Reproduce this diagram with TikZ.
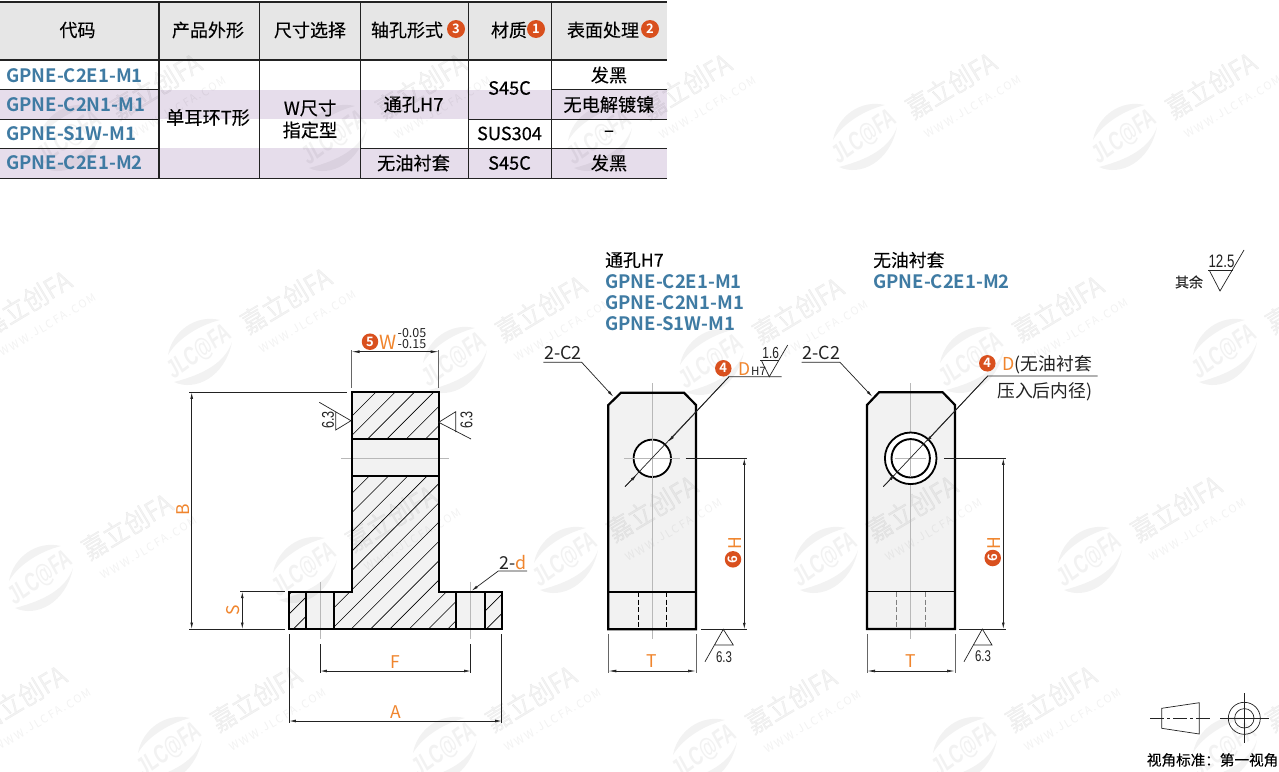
\documentclass[tikz,border=0pt]{standalone}
\usepackage{fontspec}
\usetikzlibrary{arrows.meta}
\setmainfont{Noto Sans CJK SC}
\newfontfamily\medf[FakeBold=0.2]{Noto Sans CJK SC}
\newfontfamily\boldf{Noto Sans CJK SC Bold}
\newfontfamily\wwwf[LetterSpace=16]{Noto Sans CJK SC}
\newfontfamily\wmf[FakeBold=0.7,FakeStretch=0.9]{Noto Sans CJK SC}
\newfontfamily\jlcf[FakeStretch=0.68]{Liberation Sans}
\newfontfamily\cnd[FakeStretch=0.74]{Liberation Sans}
\definecolor{codeblue}{HTML}{3F7BA3}
\definecolor{hdrgray}{HTML}{E6E6E6}
\definecolor{bandpurple}{HTML}{E6DDEB}
\definecolor{partgray}{HTML}{F2F2F2}
\definecolor{dimorange}{HTML}{F0852D}
\definecolor{markred}{HTML}{D9501E}
\definecolor{linedark}{HTML}{222222}
\newcommand{\fs}[1]{\fontsize{#1}{#1}\selectfont}
\tikzset{
 x=1pt,y=-1pt,
 part/.style={line width=2.2pt,draw=black,line join=miter},
 inner/.style={line width=1.8pt,draw=black},
 thinl/.style={line width=.7pt,draw=linedark},
 dimline/.style={line width=.7pt,draw=linedark},
 dimgray/.style={line width=.8pt,draw=gray!80!black},
 arr/.style={dimline,{Latex[length=6.5pt,width=2.8pt]}-{Latex[length=6.5pt,width=2.8pt]}},
 centerl/.style={line width=.5pt,draw=black!28},
 hatchl/.style={line width=.6pt,draw=black},
 rule/.style={line width=.7pt,draw=linedark},
 cell/.style={font=\medf\fs{18.2},text=black,inner sep=0pt},
 hdr/.style={font=\medf\fs{18},text=black,inner sep=0pt},
 codet/.style={font=\boldf\fs{18.5},text=codeblue,anchor=west,inner sep=0pt},
 lab/.style={font=\fs{17.8},text=linedark,inner sep=0pt},
 orangel/.style={font=\fs{17.5},text=dimorange,inner sep=0pt},
 num/.style={circle,fill=markred,text=white,font=\boldf\fs{13},inner sep=0pt,minimum size=16.5pt},
 rough/.style={font=\cnd\fs{15},text=linedark,inner sep=0pt},
}
\newcommand{\wm}[2]{%
 \begin{scope}[shift={(#1,#2)},opacity=.05]
  \fill (20,-32) .. controls (-5,-38) and (-28,-20) .. (-32,3) .. controls (-22,-14) and (0,-27) .. cycle;
  \fill (-26,30) .. controls (-5,40) and (25,25) .. (32,-10) .. controls (25,10) and (5,22) .. cycle;
  \node[rotate=36,font=\jlcf\bfseries\itshape\fs{26}] at (-1,0) {JLC@FA};
  \node[rotate=31,font=\wmf\fs{27}] at (86,-52) {嘉立创FA};
  \node[rotate=31,font=\wwwf\fs{11}] at (108,-30) {WWW.JLCFA.COM};
 \end{scope}}
\begin{document}
\begin{tikzpicture}
\useasboundingbox (0,0) rectangle (1279,771);
\fill[white] (0,0) rectangle (1279,771);
% table fills
\fill[hdrgray] (0,2) rectangle (667,60);
\fill[bandpurple] (0,89.5) rectangle (667,119);
\fill[bandpurple] (0,148) rectangle (667,178);
% part fills
\fill[partgray] (351.7,392.3) rectangle (438.7,591.7);
\fill[partgray] (289.3,591.7) rectangle (501.7,629);
\fill[partgray] (608.3,405) -- (621,392.7) -- (684,392.7) -- (696,405) -- (696,629.3) -- (608.3,629.3) -- cycle;
\fill[partgray] (867,405) -- (879,392.3) -- (942.7,392.3) -- (955,405) -- (955,629) -- (867,629) -- cycle;
% watermarks
\foreach \wx/\wy in {70/138,335/138,600/138,865/137,1125/137,
  -60/355,200/352,455/360,712/362,972/360,1225/352,
  41/578,305/570,566/560,826/560,1090/560,
  -65/750,170/750,445/750,705/752,965/750,1225/750}{\wm{\wx}{\wy}}
% table lines
\draw[line width=1.2pt,draw=linedark] (0,2) -- (667,2);
\draw[line width=1.9pt,draw=linedark] (0,60) -- (667,60);
\draw[line width=1.9pt,draw=linedark] (0,178.5) -- (667,178.5);
\draw[line width=1.4pt,draw=linedark] (159,2) -- (159,178.5);
\foreach \cx in {259,360,468,551}{\draw[rule] (\cx,2) -- (\cx,178.5);}
\draw[rule] (0,89.5) -- (159,89.5);
\draw[rule] (0,119) -- (159,119);
\draw[rule] (0,148) -- (159,148);
\draw[rule] (551,89.5) -- (667,89.5);
\draw[rule] (468,119) -- (667,119);
\draw[rule] (360,148) -- (667,148);
% header
\node[hdr] (h1) at (77.5,30) {代码};
\node[hdr] (h2) at (208,30) {产品外形};
\node[hdr] (h3) at (310,30) {尺寸选择};
\node[hdr] (h4) at (407,30) {轴孔形式};
\node[num,minimum size=18pt] (n3) at (456,29) {3};
\node[hdr] (h5) at (509,30) {材质};
\node[num,minimum size=18pt] (n1) at (536,29) {1};
\node[hdr] (h6) at (603,30) {表面处理};
\node[num,minimum size=18pt] (n2) at (650,29) {2};
% codes
\node[codet] (c1) at (6,75.5) {GPNE-C2E1-M1};
\node[codet] (c2) at (6,104.5) {GPNE-C2N1-M1};
\node[codet] (c3) at (6,133.5) {GPNE-S1W-M1};
\node[codet] (c4) at (6,163) {GPNE-C2E1-M2};
\node[cell] (t1) at (208,117.5) {单耳环T形};
\node[cell] (t2) at (310,108) {W尺寸};
\node[cell] (t3) at (310,130) {指定型};
\node[cell] (t4) at (413.5,104.5) {通孔H7};
\node[cell] (t5) at (413.5,163) {无油衬套};
\node[cell] (t6) at (509.5,88) {S45C};
\node[cell] (t7) at (509.5,133.5) {SUS304};
\node[cell] (t8) at (509.5,163) {S45C};
\node[cell] (t9) at (609,75) {发黑};
\node[cell] (t10) at (609,104.5) {无电解镀镍};
\node[cell] (t11) at (609,133.5) {–};
\node[cell] (t12) at (609,163) {发黑};
% left view: hatching
\begin{scope}
 \clip (351.7,392.3) rectangle (438.7,439.3)
       (351.7,475.7) rectangle (438.7,591.7)
       (289.3,591.7) rectangle (306.3,629)
       (334.3,591.7) rectangle (456.3,629)
       (485,591.7) rectangle (501.7,629);
 \foreach \k in {0,...,18}{
   \pgfmathsetmacro{\cc}{768+19.3*\k}
   \draw[hatchl] (\cc-300,300) -- (\cc-800,800);
 }
\end{scope}
\draw[centerl] (341,458) -- (449,458);
\draw[centerl] (320.3,581.7) -- (320.3,639);
\draw[centerl] (470.7,581.7) -- (470.7,639);
\draw[part] (351.7,591.7) -- (351.7,392.3) -- (438.7,392.3) -- (438.7,591.7) -- (501.7,591.7) -- (501.7,629) -- (289.3,629) -- (289.3,591.7) -- cycle;
\draw[inner] (351.7,439.3) -- (438.7,439.3);
\draw[inner] (351.7,475.7) -- (438.7,475.7);
\foreach \hx in {306.3,334.3,456.3,485}{\draw[inner] (\hx,591.7) -- (\hx,629);}
% dims left
\draw[dimgray] (351.5,350) -- (351.5,388);
\draw[dimgray] (438.7,350) -- (438.7,388);
\draw[dimline,{Latex[length=8pt,width=2.8pt]}-{Latex[length=8pt,width=2.8pt]}] (351.5,351.7) -- (438.7,351.7);
\node[num] (n5) at (370,341.7) {5};
\node[orangel,font=\fs{19.5}] (lw) at (388.5,342.5) {W};
\node[lab,font=\fs{12.5}] (tol1) at (412,333) {-0.05};
\node[lab,font=\fs{12.5}] (tol2) at (412,344) {-0.15};
\draw[dimline] (189,392.3) -- (346.7,392.3);
\draw[dimline] (189,629) -- (285,629);
\draw[arr] (191.7,392.3) -- (191.7,629);
\node[orangel,rotate=90] (lb) at (183,510) {B};
\draw[dimline] (240,591.7) -- (285,591.7);
\draw[arr] (242.3,591.7) -- (242.3,629);
\node[orangel,rotate=90] (ls) at (233,610) {S};
\draw[dimline] (320.3,644) -- (320.3,673);
\draw[dimline] (470.7,644) -- (470.7,673);
\draw[arr] (320.3,671) -- (470.7,671);
\node[orangel] (lf) at (395.5,662.5) {F};
\draw[dimline] (289.3,634) -- (289.3,723);
\draw[dimline] (501.7,634) -- (501.7,723);
\draw[arr] (289.3,721) -- (501.7,721);
\node[orangel] (la) at (396,712.5) {A};
\coordinate (ld2a) at (471.7,590.7);
\coordinate (ld2b) at (498.3,571);
\coordinate (ld2c) at (527,571);
\draw[dimline,{Latex[length=6.5pt,width=2.8pt]}-] (ld2a) -- (ld2b) -- (ld2c);
\node[lab,anchor=base west] (l2d) at (499,569) {2-\textcolor{dimorange}{d}};
% roughness left view
\draw[dimline] (319.3,402.3) -- (351,420.7) -- (335.7,430) -- (335.7,411.7);
\draw[dimline] (438.7,422.3) -- (455.7,411.7) -- (455.7,432);
\draw[dimline] (438.7,422.3) -- (471,439);
\node[rough,rotate=90,font=\cnd\fs{17}] (r1) at (328,420) {6.3};
\node[rough,rotate=90,font=\cnd\fs{17}] (r2) at (466.5,420) {6.3};
% middle view
\draw[centerl] (652.3,383) -- (652.3,639);
\draw[part] (608.3,405) -- (621,392.7) -- (684,392.7) -- (696,405) -- (696,629.3) -- (608.3,629.3) -- cycle;
\draw[inner] (608.3,591.7) -- (696,591.7);
\draw[line width=.9pt,dash pattern=on 5pt off 2.5pt] (638.3,592) -- (638.3,629);
\draw[line width=.9pt,dash pattern=on 5pt off 2.5pt] (666.3,592) -- (666.3,629);
\draw[line width=1.8pt,fill=white] (652.3,458.3) circle (18.7);
\draw[centerl] (624,458.3) -- (680,458.3);
\draw[centerl] (652.3,435) -- (652.3,482);
% middle view leaders
\node[lab,font=\fs{18}] (c2a) at (563,352.5) {2-C2};
\coordinate (c2au) at (543.3,362.3);
\coordinate (c2ab) at (581.7,362.3);
\coordinate (c2at) at (613.3,396.7);
\draw[dimline,-{Latex[length=6.5pt,width=2.8pt]}] (c2au) -- (c2ab) -- (c2at);
\coordinate (dla) at (781.7,376.7);
\coordinate (dlb) at (729,376.7);
\coordinate (dlc) at (625,486.7);
\draw[dimline] (dla) -- (dlb) -- (dlc);
\draw[dimline,-{Latex[length=6.5pt,width=3pt]}] (729,376.7) -- (668.3,441.7);
\draw[dimline,-{Latex[length=6.5pt,width=3pt]}] (625,486.7) -- (636.5,475);
\node[num] (n4a) at (723.3,368.3) {4};
\node[orangel] (ld) at (745,369) {D};
\node[lab,font=\fs{11.5}] (lh7) at (758.5,371.5) {H7};
\draw[dimline] (760,360.7) -- (779.3,360.7);
\draw[dimline] (761.5,360.7) -- (769.3,376.7) -- (787.7,345);
\node[rough,font=\cnd\fs{16}] (r3) at (770.7,353) {1.6};
% H dim middle
\draw[dimline] (685.7,458.3) -- (746.7,458.3);
\draw[dimline] (701,629.3) -- (746.7,629.3);
\draw[arr] (744.3,458.3) -- (744.3,629.3);
\node[orangel,rotate=90] (lh1) at (735,543) {H};
\node[num,rotate=90] (n6a) at (733,559.3) {6};
\draw[dimline] (705,661.7) -- (723.3,629.3) -- (733.3,645) -- (715,645);
\node[rough,font=\cnd\fs{15.5}] (r4) at (724,657) {6.3};
% T dim middle
\draw[dimgray] (608.3,634.3) -- (608.3,673);
\draw[dimgray] (696,634.3) -- (696,673);
\draw[dimline,{Latex[length=8pt,width=2.8pt]}-{Latex[length=8pt,width=2.8pt]}] (608.3,671) -- (696,671);
\node[orangel] (lt1) at (652,661) {T};
% right view
\draw[centerl] (910.5,383) -- (910.5,639);
\draw[part] (867,405) -- (879,392.3) -- (942.7,392.3) -- (955,405) -- (955,629) -- (867,629) -- cycle;
\draw[inner] (867,591.5) -- (955,591.5);
\draw[line width=.9pt,draw=gray,dash pattern=on 5pt off 2.5pt] (896.7,592) -- (896.7,629);
\draw[line width=.9pt,draw=gray,dash pattern=on 5pt off 2.5pt] (925,592) -- (925,629);
\draw[line width=1.8pt,fill=white] (910.7,458.3) circle (25.8);
\draw[line width=1.9pt,fill=white] (910.7,458.3) circle (19.2);
\draw[centerl] (895,458.3) -- (926,458.3);
\draw[centerl] (910.7,440) -- (910.7,477);
\node[lab,font=\fs{18}] (c2b) at (821.5,352.5) {2-C2};
\coordinate (c2bu) at (801.7,362.3);
\coordinate (c2bb) at (840,362.3);
\coordinate (c2bt) at (872.3,396.7);
\draw[dimline,-{Latex[length=6.5pt,width=2.8pt]}] (c2bu) -- (c2bb) -- (c2bt);
\coordinate (dra) at (1097.7,376);
\coordinate (drb) at (987.7,376);
\coordinate (drc) at (883.3,486.7);
\draw[dimline] (dra) -- (drb) -- (drc);
\draw[dimline,-{Latex[length=6.5pt,width=3pt]}] (987.7,376) -- (926,442);
\draw[dimline,-{Latex[length=6.5pt,width=3pt]}] (883.3,486.7) -- (895,474.5);
\node[num] (n4b) at (987.3,363.3) {4};
\node[lab,anchor=base west] (dtxt) at (1002.5,370) {\textcolor{dimorange}{D}(无油衬套};
\node[lab,anchor=base west] (ptxt) at (997,397) {压入后内径)};
\draw[dimline] (944.3,458.3) -- (1005.7,458.3);
\draw[dimline] (959.3,629) -- (1005.7,629);
\draw[arr] (1003.3,458.3) -- (1003.3,629);
\node[orangel,rotate=90] (lh2) at (994,543) {H};
\node[num,rotate=90] (n6b) at (992.7,558) {6};
\draw[dimline] (964,661.7) -- (982.3,629) -- (992,645) -- (973.7,645);
\node[rough,font=\cnd\fs{15.5}] (r5) at (983,656) {6.3};
\draw[dimgray] (867,634.3) -- (867,673);
\draw[dimgray] (955,634.3) -- (955,673);
\draw[dimline,{Latex[length=8pt,width=2.8pt]}-{Latex[length=8pt,width=2.8pt]}] (867,671) -- (955,671);
\node[orangel] (lt2) at (911,661) {T};
% titles
\node[lab,anchor=west,font=\medf\fs{17.8},text=black] (ttl1) at (605,260) {通孔H7};
\node[codet] (ca) at (605,282) {GPNE-C2E1-M1};
\node[codet] (cb) at (605,303) {GPNE-C2N1-M1};
\node[codet] (cc) at (605,324) {GPNE-S1W-M1};
\node[lab,anchor=west,font=\medf\fs{17.8},text=black] (ttl2) at (873,260) {无油衬套};
\node[codet] (cd) at (873,282) {GPNE-C2E1-M2};
% 12.5 symbol
\draw[dimline] (1208.3,270.7) -- (1232.7,270.7);
\draw[dimline] (1209.5,270.7) -- (1220,291) -- (1244,250);
\node[rough,font=\cnd\fs{18}] (r6) at (1221.5,261.5) {12.5};
\node[lab,font=\medf\fs{14}] (qy) at (1189,282) {其余};
% projection symbol
\draw[thinl] (1161.7,708.3) -- (1199.3,702.7) -- (1199.3,734) -- (1161.7,728.3) -- cycle;
\draw[thinl,dash pattern=on 14pt off 3pt on 3pt off 3pt] (1150,718.3) -- (1210.7,718.3);
\draw[thinl] (1244.3,718.3) circle (16);
\draw[thinl] (1244.3,718.3) circle (9.7);
\draw[thinl] (1220,718.3) -- (1269.3,718.3);
\draw[thinl] (1244.3,693.3) -- (1244.3,742.7);
\node[lab,anchor=east,font=\medf\fs{14.6},text=black] (vs) at (1278.5,760) {视角标准：第一视角};
\end{tikzpicture}
\end{document}
